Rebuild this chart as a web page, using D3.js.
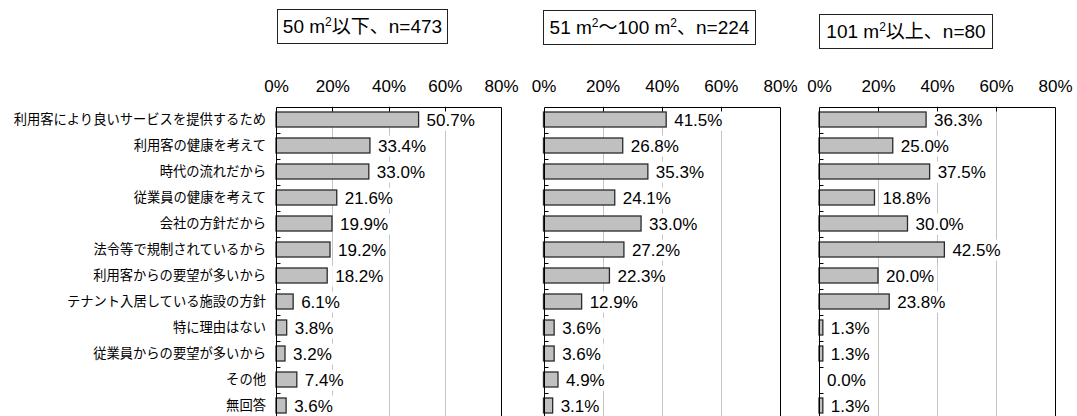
<!DOCTYPE html>
<html>
<head>
<meta charset="utf-8">
<script src="https://cdn.jsdelivr.net/npm/d3@7"></script>
<style>
  html, body { margin: 0; padding: 0; background: #fff; }
  svg { display: block; }
</style>
</head>
<body>
<svg id="chart" width="1077" height="416"></svg>
<script>
// Reasons for smoking restrictions, by floor area of the premises
const categories = [
  "利用客により良いサービスを提供するため",
  "利用客の健康を考えて",
  "時代の流れだから",
  "従業員の健康を考えて",
  "会社の方針だから",
  "法令等で規制されているから",
  "利用客からの要望が多いから",
  "テナント入居している施設の方針",
  "特に理由はない",
  "従業員からの要望が多いから",
  "その他",
  "無回答"
];

const panelTitles = ["50 m²以下、n=473", "51 m²～100 m²、n=224", "101 m²以上、n=80"];

const valuesSmall  = [50.7, 33.4, 33.0, 21.6, 19.9, 19.2, 18.2, 6.1, 3.8, 3.2, 7.4, 3.6];
const valuesMedium = [41.5, 26.8, 35.3, 24.1, 33.0, 27.2, 22.3, 12.9, 3.6, 3.6, 4.9, 3.1];
const valuesLarge  = [36.3, 25.0, 37.5, 18.8, 30.0, 42.5, 20.0, 23.8, 1.3, 1.3, 0.0, 1.3];

const tickValues = [0, 20, 40, 60, 80];

const seriesList = [valuesSmall, valuesMedium, valuesLarge];

// Panel placement
const plotTop = 106.5, plotBottom = 418.5;
const panelLayout = [
  { x0: 276,   x1: 501,  box: { x: 277, y: 9,  w: 170, h: 34 } },
  { x0: 543.5, x1: 780,  box: { x: 543, y: 10, w: 212, h: 34 } },
  { x0: 819,   x1: 1055, box: { x: 819, y: 14, w: 173, h: 34 } }
];

const latinFont = "'Liberation Sans', Arial, 'Noto Sans CJK JP', sans-serif";
const cjkFont = "'Noto Sans CJK JP', 'Noto Sans', sans-serif";

const svg = d3.select("#chart");
svg.append("rect").attr("width", 1077).attr("height", 416).attr("fill", "#fff");

const y = d3.scaleBand()
  .domain(categories)
  .range([plotTop, plotBottom])
  .paddingInner(0.42)
  .paddingOuter(0.21);

const step = y.step();
function bandTop(c) { return plotTop + categories.indexOf(c) * step; }
function bandMid(c) { return bandTop(c) + step / 2; }

panelLayout.forEach((p, pi) => {
  const vals = seriesList[pi];
  const x = d3.scaleLinear().domain([0, 80]).range([p.x0, p.x1]);
  const g = svg.append("g");

  // title box
  const b = p.box;
  g.append("rect")
    .attr("x", b.x + 0.5).attr("y", b.y + 0.5)
    .attr("width", b.w).attr("height", b.h)
    .attr("fill", "#fff").attr("stroke", "#222").attr("stroke-width", 1);
  const title = g.append("text")
    .attr("x", b.x + b.w / 2 + 0.5).attr("y", b.y + b.h / 2 + 7)
    .attr("text-anchor", "middle")
    .attr("font-family", latinFont).attr("font-size", 19).attr("fill", "#000");
  const parts = panelTitles[pi].split("²");
  parts.forEach((part, i) => {
    title.append("tspan").attr("dy", i === 0 ? 0 : 7).text(part);
    if (i < parts.length - 1) {
      title.append("tspan").attr("font-size", 12).attr("dy", -7).text("2");
    }
  });

  // gridlines
  g.append("g").selectAll("line")
    .data(tickValues.filter(v => v > 0 && v < 80))
    .join("line")
    .attr("x1", d => Math.round(x(d)) + 0.5).attr("x2", d => Math.round(x(d)) + 0.5)
    .attr("y1", plotTop).attr("y2", plotBottom)
    .attr("stroke", "#c4c4c4").attr("stroke-width", 1);

  // top tick labels
  const axis = d3.axisTop(x).tickValues(tickValues).tickFormat(d => d + "%").tickSize(0).tickPadding(0);
  const ax = g.append("g").attr("transform", "translate(0,92)").call(axis);
  ax.select(".domain").remove();
  ax.selectAll("text")
    .attr("font-family", latinFont).attr("font-size", 17).attr("fill", "#000")
    .attr("dy", 0).attr("y", 0);

  // bars
  g.append("g").selectAll("rect")
    .data(categories.map((c, i) => ({ c, v: vals[i] })).filter(d => d.v > 0))
    .join("rect")
    .attr("x", x(0))
    .attr("y", d => bandMid(d.c) - 7.5)
    .attr("width", d => x(d.v) - x(0))
    .attr("height", 15)
    .attr("fill", "#c0c0c0")
    .attr("stroke", "#2a2a2a").attr("stroke-width", 1.3);

  // value labels with white backing
  const lab = g.append("g").selectAll("g")
    .data(categories.map((c, i) => ({ c, v: vals[i] })))
    .join("g");
  const labText = lab.append("text")
    .attr("x", d => x(d.v) + 8)
    .attr("y", d => bandMid(d.c))
    .attr("dy", "0.36em")
    .attr("font-family", latinFont).attr("font-size", 17).attr("fill", "#000")
    .text(d => d.v.toFixed(1) + "%");
  labText.each(function () {
    const bb = this.getBBox();
    d3.select(this.parentNode).insert("rect", "text")
      .attr("x", bb.x - 3).attr("y", bb.y - 1)
      .attr("width", bb.width + 6).attr("height", bb.height + 2)
      .attr("fill", "#fff");
  });

  // frame: left axis, top border, right border
  const fx0 = Math.round(x(0)) + 0.5, fx1 = Math.round(x(80)) + 0.5, fy = Math.round(plotTop) + 0.5;
  g.append("path")
    .attr("d", `M${fx0},${plotBottom + 5}V${fy}H${fx1}V${plotBottom + 5}`)
    .attr("fill", "none").attr("stroke", "#000").attr("stroke-width", 1);

  // inner tick marks on top border
  g.append("g").selectAll("line")
    .data(tickValues.filter(v => v > 0 && v < 80))
    .join("line")
    .attr("x1", d => Math.round(x(d)) + 0.5).attr("x2", d => Math.round(x(d)) + 0.5)
    .attr("y1", fy).attr("y2", fy + 4)
    .attr("stroke", "#000").attr("stroke-width", 1);

  // inner tick marks on the category axis at band boundaries
  g.append("g").selectAll("line")
    .data(categories.slice(1))
    .join("line")
    .attr("x1", fx0).attr("x2", fx0 + 4)
    .attr("y1", d => Math.round(bandTop(d)) + 0.5).attr("y2", d => Math.round(bandTop(d)) + 0.5)
    .attr("stroke", "#000").attr("stroke-width", 1);

  // category labels (first panel only)
  if (pi === 0) {
    g.append("g").selectAll("text")
      .data(categories)
      .join("text")
      .attr("x", p.x0 - 10)
      .attr("y", d => bandMid(d))
      .attr("dy", "0.36em")
      .attr("text-anchor", "end")
      .attr("font-family", cjkFont).attr("font-size", 13.3).attr("fill", "#000")
      .text(d => d);
  }
});
</script>
</body>
</html>
